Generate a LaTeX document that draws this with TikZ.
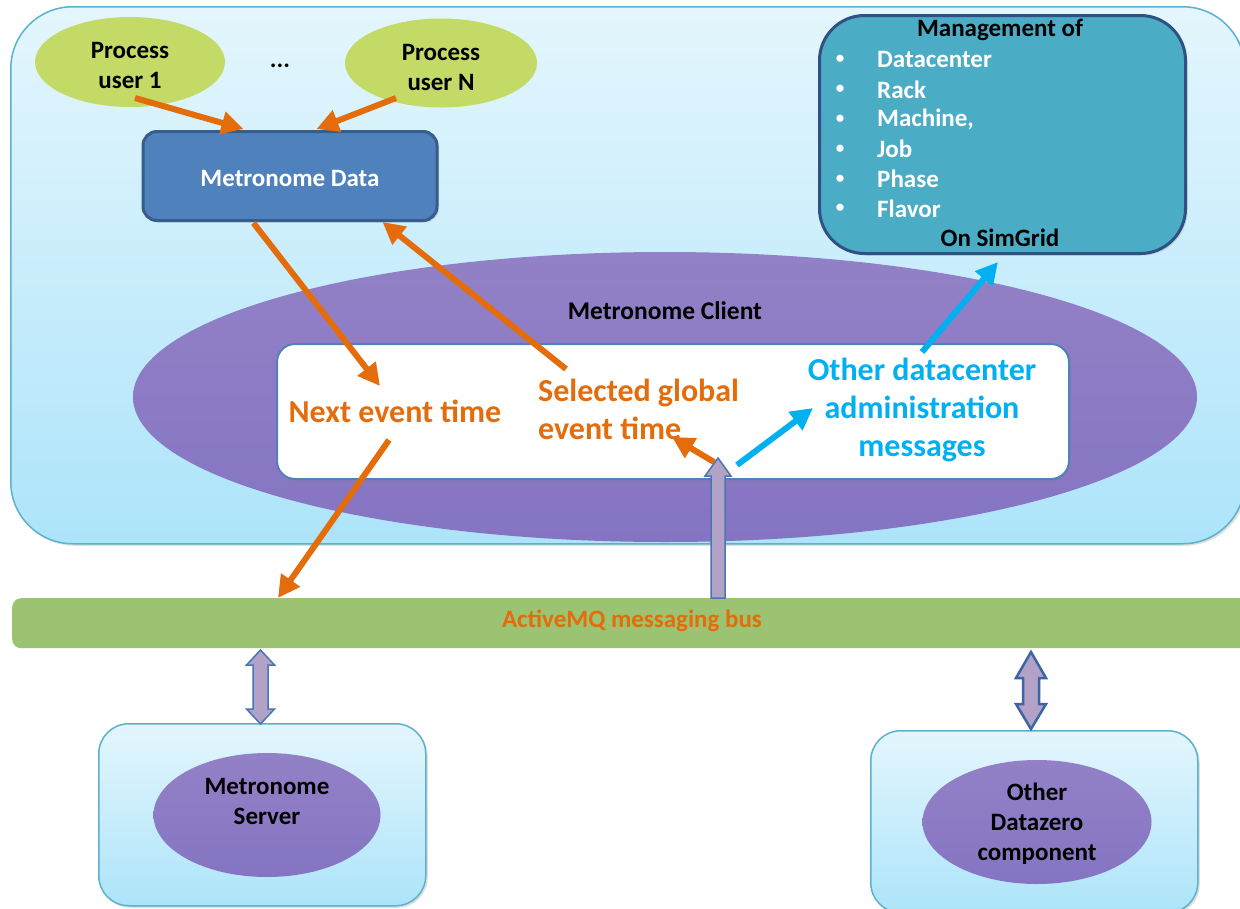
\documentclass[tikz,border=0pt]{standalone}
\usepackage{fontspec}
\setmainfont{Carlito}
\usetikzlibrary{arrows.meta,shapes.geometric,calc,shadows}
\definecolor{outtop}{HTML}{E4F6FD}
\definecolor{outbot}{HTML}{ADE4FA}
\definecolor{outline}{HTML}{5AB2CE}
\definecolor{procfill}{HTML}{C4DA66}
\definecolor{datafill}{HTML}{4F81BD}
\definecolor{dataline}{HTML}{385D8A}
\definecolor{mgmtfill}{HTML}{4BACC6}
\definecolor{mgmtline}{HTML}{2F5283}
\definecolor{clienttop}{HTML}{9381C7}
\definecolor{clientbot}{HTML}{8574C2}
\definecolor{myorange}{HTML}{E46C0A}
\definecolor{myblue}{HTML}{00B0F0}
\definecolor{busfill}{HTML}{9BC372}
\definecolor{blockfill}{HTML}{B3A2C7}
\definecolor{blockline}{HTML}{4A76B0}
\definecolor{blockdark}{HTML}{3D65A0}
\tikzset{
  lightbox/.style={draw=outline, line width=1.5pt, top color=outtop, bottom color=outbot, inner sep=0pt},
  procell/.style={ellipse, fill=procfill, inner sep=0pt},
  purpell/.style={ellipse, top color=clienttop, bottom color=clientbot, inner sep=0pt},
  txt/.style={inner sep=0pt, align=center, font=\bfseries\fontsize{25}{30}\selectfont},
  bigtxt/.style={inner sep=0pt, font=\bfseries\fontsize{32}{38}\selectfont},
  orangearr/.style={draw=myorange, line width=6pt, -{Triangle[length=22pt,width=22pt]}},
  bluearr/.style={draw=myblue, line width=6pt, -{Triangle[length=22pt,width=22pt]}},
  blockarr/.style={fill=blockfill, draw=blockline, line width=1.5pt, line join=miter},
  shad/.style={drop shadow={opacity=0.25, shadow xshift=2pt, shadow yshift=-2pt}},
}
\begin{document}
\begin{tikzpicture}[x=1pt,y=-1pt]
\useasboundingbox (0,0) rectangle (1240,908);
\fill[white] (0,0) rectangle (1240,908);

% outer client host box
\node[lightbox, shad, rounded corners=62pt, minimum width=1234pt, minimum height=537pt, anchor=north west] (outer) at (10,6) {};

% process users
\node[procell, minimum width=190pt, minimum height=90pt] (p1) at (130,62) {};
\node[txt] (p1t) at (130,65) {Process\\user 1};
\node[procell, minimum width=192pt, minimum height=89pt] (pN) at (441,63) {};
\node[txt] (pNt) at (441,67) {Process\\user N};
\node[txt] (dots) at (280,66) {...};

% metronome data
\node[shad, draw=dataline, fill=datafill, line width=3pt, rounded corners=14pt, minimum width=294pt, minimum height=89pt] (mdata) at (290,176) {};
\node[txt, text=white] (mdatat) at (290,178) {Metronome Data};

% management box
\node[shad, draw=mgmtline, fill=mgmtfill, line width=3pt, rounded corners=45pt, minimum width=366pt, minimum height=238pt, anchor=north west] (mgmt) at (818,14) {};
\node[txt] (mgmth) at (1000,30) {Management of};
\foreach \t [count=\i] in {Datacenter,Rack,{Machine,},Job,Phase,Flavor}{
  \node[txt, text=white, font=\bfseries\fontsize{17}{20}\selectfont] (bul\i) at (840,{30+29.8*\i}) {\textbullet};
  \node[txt, text=white, anchor=west] (item\i) at (877,{30+29.8*\i}) {\t};
}
\node[txt] (simgrid) at (1000,238) {On SimGrid};

% metronome client ellipse
\node[purpell, minimum width=1064pt, minimum height=290pt] (client) at (665,397) {};
\node[txt, font=\bfseries\fontsize{25.5}{30}\selectfont] (clientt) at (665,311) {Metronome Client};

% white box
\node[shad, draw=datafill, fill=white, line width=2pt, rounded corners=18pt, minimum width=792pt, minimum height=135pt, anchor=north west] (wbox) at (276,343) {};
\node[bigtxt, text=myorange] (next) at (395,411) {Next event time};
\node[bigtxt, text=myorange, align=left, anchor=west] (sel) at (538,409) {Selected global\\event time};
\node[bigtxt, text=myblue, align=center] (other) at (922,410) {Other datacenter\\administration\\messages};

% bus
\node[fill=busfill, rounded corners=9pt, minimum width=1240pt, minimum height=50pt, anchor=north west] (bus) at (12,598) {};
\node[txt, text=myorange] (bust) at (632,621) {ActiveMQ messaging bus};

% lower boxes
\node[lightbox, shad, rounded corners=30pt, minimum width=327pt, minimum height=182pt, anchor=north west] (srvbox) at (98,723) {};
\node[purpell, minimum width=227pt, minimum height=124pt] (srv) at (267,815) {};
\node[txt] (srvt) at (267,801) {Metronome\\Server};

\node[lightbox, shad, rounded corners=30pt, minimum width=327pt, minimum height=182pt, anchor=north west] (othbox) at (870,730) {};
\node[purpell, minimum width=229pt, minimum height=124pt] (oth) at (1037,822) {};
\node[txt] (otht) at (1037,824) {Other\\Datazero\\component};

% connector end points
\coordinate (a1s) at (135,98);
\coordinate (a1e) at ($(mdata.north west)+(102,-1)$);
\coordinate (a2s) at (396,98);
\coordinate (a2e) at ($(mdata.north west)+(175,-1)$);
\coordinate (a3s) at ($(mdata.south west)+(112,1)$);
\coordinate (a3e) at (380,386);
\coordinate (a4s) at (566,369);
\coordinate (a4e) at ($(mdata.south west)+(241,0)$);
\coordinate (a5s) at (389,440);
\coordinate (a5e) at ($(bus.north west)+(266,0)$);
\coordinate (a7s) at (714,462);
\coordinate (a7e) at (672,437);
\coordinate (a8s) at (737,465);
\coordinate (a8e) at (813,408);
\coordinate (a9s) at (922,352);
\coordinate (a9e) at ($(mgmt.south west)+(180,7)$);

\draw[orangearr] (a1s) -- (a1e);
\draw[orangearr] (a2s) -- (a2e);
\draw[orangearr] (a3s) -- (a3e);
\draw[orangearr] (a4s) -- (a4e);
\draw[orangearr] (a5s) -- (a5e);
\draw[orangearr] (a7s) -- (a7e);
\draw[bluearr] (a8s) -- (a8e);
\draw[bluearr] (a9s) -- (a9e);

% block arrow from bus up into client
\draw[blockarr, shift={(718,458)}] (0,0) -- (13,18) -- (7,18) -- (7,140) -- (-7,140) -- (-7,18) -- (-13,18) -- cycle;

% double arrows bus <-> lower boxes
\draw[blockarr, shift={(260.5,650)}] (0,0) -- (14,15) -- (7.5,15) -- (7.5,59) -- (14,59) -- (0,74) -- (-14,59) -- (-7.5,59) -- (-7.5,15) -- (-14,15) -- cycle;
\draw[blockarr, draw=blockdark, line width=2.5pt, shift={(1031,652)}] (0,0) -- (15,26) -- (8,26) -- (8,52) -- (15,52) -- (0,77) -- (-15,52) -- (-8,52) -- (-8,26) -- (-15,26) -- cycle;
\end{tikzpicture}
\end{document}
